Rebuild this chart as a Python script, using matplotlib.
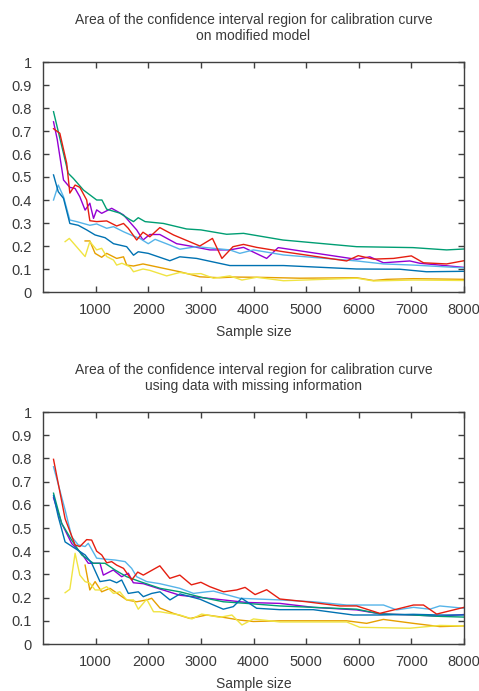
import matplotlib
matplotlib.use("Agg")
import matplotlib.pyplot as plt
from matplotlib.ticker import MultipleLocator, FormatStrFormatter

plt.rcParams['font.family'] = ['Liberation Sans', 'DejaVu Sans']

# gnuplot default line colours
PURPLE = '#9400d3'
GREEN = '#009e73'
LBLUE = '#56b4e9'
ORANGE = '#e69f00'
YELLOW = '#f0e442'
BLUE = '#0072b2'
RED = '#e51e10'

# ---- upper panel: modified model ----
top_purple_x = [200, 270, 390, 510, 610, 700, 800, 890, 960, 1020, 1115, 1305, 1530, 1780, 1900, 2030, 2220,
                2540, 2790, 3170, 3550, 3810, 4250, 4470, 5960, 6210, 6470, 6970, 7160, 8000]
top_purple_y = [0.74, 0.664, 0.487, 0.455, 0.45, 0.414, 0.356, 0.386, 0.32, 0.357, 0.342, 0.364, 0.335, 0.27,
                0.226, 0.25, 0.25, 0.21, 0.2, 0.183, 0.183, 0.194, 0.146, 0.193, 0.142, 0.153, 0.127, 0.135,
                0.125, 0.107]

top_green_x = [200, 480, 576, 770, 1020, 1120, 1210, 1460, 1650, 1720, 1810, 1940, 2290, 2730, 3000, 3490,
               3810, 4560, 5960, 7030, 7670, 8000]
top_green_y = [0.784, 0.516, 0.494, 0.443, 0.40, 0.40, 0.36, 0.343, 0.315, 0.306, 0.323, 0.306, 0.298, 0.274,
               0.27, 0.251, 0.255, 0.226, 0.197, 0.193, 0.183, 0.187]

top_lblue_x = [200, 290, 390, 510, 640, 890, 1020, 1210, 1340, 1530, 1720, 1840, 2000, 2130, 2410, 2600, 2920,
               3550, 3740, 4000, 4570, 5960, 6470, 7040, 8000]
top_lblue_y = [0.40, 0.465, 0.414, 0.313, 0.306, 0.29, 0.296, 0.277, 0.284, 0.262, 0.243, 0.233, 0.21, 0.229,
               0.204, 0.186, 0.197, 0.183, 0.168, 0.183, 0.161, 0.135, 0.122, 0.117, 0.105]

top_orange_x = [800, 890, 990, 1115, 1210, 1400, 1530, 1590, 1720, 1900, 2290, 2600, 2980, 3360, 3620, 4060,
                4880, 5960, 6280, 6530, 7040, 8000]
top_orange_y = [0.222, 0.222, 0.168, 0.151, 0.168, 0.146, 0.153, 0.117, 0.113, 0.122, 0.103, 0.088, 0.066,
                0.062, 0.065, 0.064, 0.06, 0.062, 0.05, 0.055, 0.058, 0.055]

top_yellow_x = [420, 500, 800, 890, 1020, 1115, 1210, 1340, 1400, 1500, 1650, 1720, 1900, 2030, 2350, 2600,
                2800, 3000, 3240, 3550, 3780, 4060, 4570, 5960, 6280, 7040, 8000]
top_yellow_y = [0.219, 0.233, 0.154, 0.219, 0.183, 0.19, 0.154, 0.139, 0.117, 0.125, 0.11, 0.088, 0.1, 0.094,
                0.07, 0.085, 0.078, 0.08, 0.06, 0.07, 0.052, 0.064, 0.049, 0.06, 0.048, 0.052, 0.05]

top_blue_x = [200, 290, 390, 510, 670, 830, 990, 1180, 1340, 1590, 1720, 1810, 2000, 2410, 2600, 2920, 3550,
              4570, 5960, 6780, 7290, 8000]
top_blue_y = [0.509, 0.436, 0.407, 0.298, 0.29, 0.27, 0.248, 0.236, 0.21, 0.197, 0.16, 0.175, 0.168, 0.136,
              0.153, 0.146, 0.115, 0.115, 0.10, 0.099, 0.088, 0.09]

top_red_x = [200, 320, 450, 510, 610, 700, 830, 890, 1020, 1210, 1400, 1530, 1620, 1780, 1900, 2030, 2220,
             2480, 2980, 3220, 3400, 3610, 3810, 4060, 4570, 5770, 5990, 6280, 6660, 7000, 7230, 7670, 8000]
top_red_y = [0.71, 0.69, 0.56, 0.43, 0.465, 0.455, 0.40, 0.31, 0.306, 0.309, 0.287, 0.298, 0.277, 0.226, 0.26,
             0.24, 0.28, 0.248, 0.2, 0.233, 0.146, 0.197, 0.207, 0.194, 0.175, 0.135, 0.158, 0.143, 0.146,
             0.157, 0.127, 0.122, 0.136]

# ---- lower panel: data with missing information ----
bot_purple_x = [200, 355, 545, 735, 861, 1083, 1146, 1336, 1495, 1621, 1716, 1906, 2223, 2603, 3015, 3426,
                3870, 4503, 5136, 5960, 6404, 7036, 7543, 8000]
bot_purple_y = [0.63, 0.52, 0.433, 0.39, 0.348, 0.348, 0.297, 0.319, 0.29, 0.305, 0.264, 0.26, 0.237, 0.21,
                0.2, 0.19, 0.179, 0.175, 0.158, 0.147, 0.13, 0.125, 0.12, 0.127]

bot_green_x = [200, 355, 545, 735, 956, 1178, 1368, 1590, 1843, 2223, 2600, 3015, 3426, 3870, 4500, 5136,
               5960, 6404, 7036, 7543, 8000]
bot_green_y = [0.65, 0.52, 0.448, 0.384, 0.348, 0.348, 0.319, 0.29, 0.269, 0.24, 0.225, 0.201, 0.182, 0.175,
               0.164, 0.158, 0.15, 0.13, 0.125, 0.119, 0.116]

bot_lblue_x = [200, 420, 545, 670, 800, 860, 1020, 1210, 1370, 1560, 1685, 1780, 1970, 2220, 2600, 2860,
               3110, 3240, 3740, 4500, 5140, 5770, 6470, 6720, 7040, 7350, 7540, 8000]
bot_lblue_y = [0.764, 0.578, 0.462, 0.427, 0.42, 0.434, 0.37, 0.365, 0.362, 0.355, 0.326, 0.29, 0.269, 0.26,
               0.24, 0.218, 0.225, 0.228, 0.197, 0.19, 0.182, 0.168, 0.168, 0.147, 0.158, 0.15, 0.164, 0.154]

bot_orange_x = [800, 890, 990, 1115, 1273, 1590, 1780, 1970, 2065, 2223, 2477, 2793, 3110, 3426, 3743, 3996,
                4503, 5770, 6150, 6467, 7036, 7543, 8000]
bot_orange_y = [0.34, 0.233, 0.269, 0.225, 0.24, 0.19, 0.182, 0.19, 0.197, 0.155, 0.132, 0.11, 0.125, 0.115,
                0.103, 0.097, 0.1, 0.1, 0.089, 0.106, 0.089, 0.075, 0.078]

bot_yellow_x = [420, 510, 610, 700, 800, 890, 990, 1080, 1210, 1340, 1460, 1590, 1720, 1810, 1970, 2100, 2220,
                2600, 2830, 3015, 3360, 3590, 3780, 4000, 4500, 5770, 6020, 6970, 7540, 8000]
bot_yellow_y = [0.221, 0.236, 0.391, 0.297, 0.269, 0.262, 0.233, 0.233, 0.247, 0.218, 0.225, 0.19, 0.19, 0.15,
                0.193, 0.139, 0.139, 0.125, 0.108, 0.129, 0.115, 0.125, 0.082, 0.108, 0.095, 0.095, 0.072,
                0.068, 0.08, 0.078]

bot_blue_x = [200, 290, 420, 610, 800, 925, 1083, 1273, 1400, 1495, 1621, 1812, 1906, 2065, 2223, 2413, 2603,
              2983, 3426, 3616, 3775, 4060, 4500, 5136, 5896, 6404, 7036, 7543, 8000]
bot_blue_y = [0.64, 0.549, 0.44, 0.412, 0.384, 0.348, 0.269, 0.276, 0.264, 0.276, 0.218, 0.225, 0.204, 0.218,
              0.225, 0.19, 0.216, 0.193, 0.15, 0.161, 0.197, 0.154, 0.148, 0.148, 0.125, 0.125, 0.128, 0.125,
              0.125]

bot_red_x = [200, 420, 610, 700, 830, 925, 1020, 1115, 1210, 1305, 1400, 1530, 1685, 1800, 1906, 2220, 2410,
             2600, 2820, 3000, 3170, 3430, 3680, 3840, 4030, 4250, 4500, 5010, 5640, 5960, 6400, 7040, 7230,
             7480, 8000]
bot_red_y = [0.796, 0.54, 0.427, 0.42, 0.45, 0.448, 0.40, 0.384, 0.35, 0.355, 0.34, 0.326, 0.276, 0.31, 0.297,
             0.337, 0.283, 0.297, 0.255, 0.266, 0.247, 0.225, 0.233, 0.244, 0.213, 0.234, 0.194, 0.182, 0.164,
             0.164, 0.132, 0.168, 0.168, 0.129, 0.158]

top_title = "Area of the confidence interval region for calibration curve\non modified model"
bot_title = "Area of the confidence interval region for calibration curve\nusing data with missing information"

TEXT = '#3a3a3a'

fig = plt.figure(figsize=(4.79, 6.91), dpi=100)
ax_top = fig.add_axes([43 / 479, 1 - 292 / 691, 421 / 479, 230 / 691])
ax_bot = fig.add_axes([43 / 479, 1 - 644 / 691, 421 / 479, 232 / 691])

panels = [
    (ax_top, top_title, [(top_purple_x, top_purple_y, PURPLE), (top_green_x, top_green_y, GREEN),
                         (top_lblue_x, top_lblue_y, LBLUE), (top_orange_x, top_orange_y, ORANGE),
                         (top_yellow_x, top_yellow_y, YELLOW), (top_blue_x, top_blue_y, BLUE),
                         (top_red_x, top_red_y, RED)]),
    (ax_bot, bot_title, [(bot_purple_x, bot_purple_y, PURPLE), (bot_green_x, bot_green_y, GREEN),
                         (bot_lblue_x, bot_lblue_y, LBLUE), (bot_orange_x, bot_orange_y, ORANGE),
                         (bot_yellow_x, bot_yellow_y, YELLOW), (bot_blue_x, bot_blue_y, BLUE),
                         (bot_red_x, bot_red_y, RED)]),
]

for ax, title, series in panels:
    for xs, ys, col in series:
        ax.plot(xs, ys, color=col, lw=1.0)
    ax.set_xlim(0, 8000)
    ax.set_ylim(0, 1)
    ax.set_xticks(range(1000, 9000, 1000))
    ax.yaxis.set_major_locator(MultipleLocator(0.1))
    ax.yaxis.set_major_formatter(FormatStrFormatter('%g'))
    ax.tick_params(direction='in', length=4, width=1, top=True, right=True,
                   labelsize=10.5, labelcolor=TEXT, color='#404040', pad=8)
    for sp in ax.spines.values():
        sp.set_color('#404040')
        sp.set_linewidth(1)
    ax.set_xlabel('Sample size', fontsize=10, color=TEXT, labelpad=6)
    ax.set_title(title, fontsize=10, color=TEXT, pad=16, linespacing=1.15)

fig.savefig('out.png', dpi=100)
